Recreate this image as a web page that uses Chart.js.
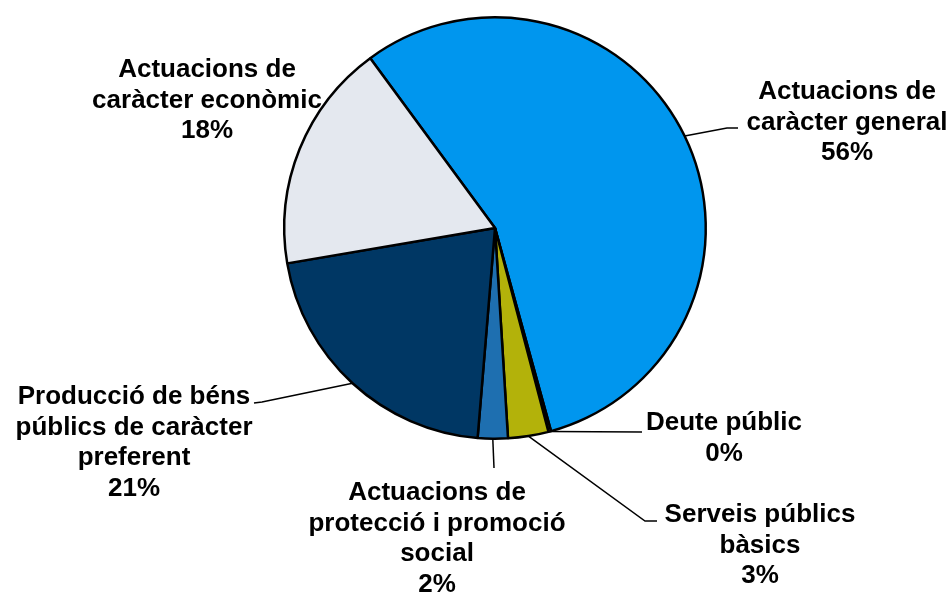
<!DOCTYPE html>
<html>
<head>
<meta charset="utf-8">
<script src="https://cdn.jsdelivr.net/npm/chart.js@4/dist/chart.umd.min.js"></script>
<style>
  html, body { margin: 0; padding: 0; background: #fff; }
  #wrap { width: 952px; height: 594px; position: relative; }
</style>
</head>
<body>
<div id="wrap"><canvas id="c" width="952" height="594"></canvas></div>
<script>
// ---- data ----
const categories = [
  "Actuacions de caràcter general",
  "Deute públic",
  "Serveis públics bàsics",
  "Actuacions de protecció i promoció social",
  "Producció de béns públics de caràcter preferent",
  "Actuacions de caràcter econòmic"
];
const values = [55.8, 0.2, 3.1, 2.3, 21.0, 17.6];

// ---- style / layout ----
const colors = ["#0096EE", "#7F7F7F", "#B3B20A", "#1E6FB0", "#003764", "#E4E8EF"];
const labelLines = [
  ["Actuacions de", "caràcter general"],
  ["Deute públic"],
  ["Serveis públics", "bàsics"],
  ["Actuacions de", "protecció i promoció", "social"],
  ["Producció de béns", "públics de caràcter", "preferent"],
  ["Actuacions de", "caràcter econòmic"]
];
// label block: centre x, first line y; leader elbow points (null = none)
const labelLayout = [
  { x: 847, y: 92,  elbow: [[727, 128], [738, 128]] },
  { x: 724, y: 423, elbow: [[642, 432]] },
  { x: 760, y: 515, elbow: [[645, 521], [657, 521]] },
  { x: 437, y: 493, elbow: [[494, 468]] },
  { x: 134, y: 397, elbow: [[262, 402], [254, 403]] },
  { x: 207, y: 70,  elbow: null }
];
const lineHeight = 30.5;
const fontSpec = "bold 26px 'Liberation Sans', Arial, sans-serif";

const labelPlugin = {
  id: 'pieLabels',
  afterDraw(chart) {
    const ctx = chart.ctx;
    const meta = chart.getDatasetMeta(0);
    const total = values.reduce((a, b) => a + b, 0);
    ctx.save();
    meta.data.forEach((arc, i) => {
      const L = labelLayout[i];
      const p = arc.getProps(['x', 'y', 'startAngle', 'endAngle', 'outerRadius'], true);
      const mid = (p.startAngle + p.endAngle) / 2;
      if (L.elbow) {
        ctx.beginPath();
        ctx.strokeStyle = '#000';
        ctx.lineWidth = 1.5;
        ctx.moveTo(p.x + Math.cos(mid) * p.outerRadius, p.y + Math.sin(mid) * p.outerRadius);
        L.elbow.forEach(pt => ctx.lineTo(pt[0], pt[1]));
        ctx.stroke();
      }
      ctx.font = fontSpec;
      ctx.fillStyle = '#000';
      ctx.textAlign = 'center';
      ctx.textBaseline = 'middle';
      const lines = labelLines[i].concat([Math.round(values[i] / total * 100) + '%']);
      lines.forEach((t, k) => ctx.fillText(t, L.x, L.y + k * lineHeight));
    });
    ctx.restore();
  }
};

new Chart(document.getElementById('c'), {
  type: 'pie',
  data: {
    labels: categories,
    datasets: [{
      data: values,
      backgroundColor: colors,
      borderColor: '#000',
      borderWidth: 2.5
    }]
  },
  options: {
    responsive: false,
    animation: false,
    rotation: -36.3,
    layout: { padding: { left: 283, right: 245, top: 16, bottom: 154 } },
    plugins: {
      legend: { display: false },
      tooltip: { enabled: false }
    }
  },
  plugins: [labelPlugin]
});
</script>
</body>
</html>
